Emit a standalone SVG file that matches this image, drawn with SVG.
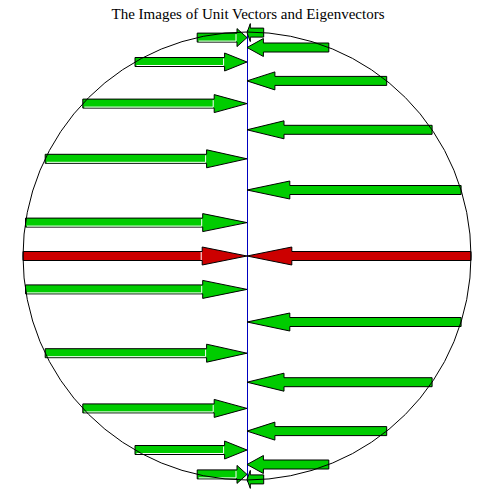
<svg xmlns="http://www.w3.org/2000/svg" width="495" height="495" viewBox="0 0 495 495">
<defs>
<style>
.g{fill:#00cc00;stroke:#000;stroke-width:1;stroke-linejoin:miter}
.r{fill:#cc0000;stroke:#000;stroke-width:1;stroke-linejoin:miter}
.hl{fill:none;stroke:#fff;stroke-width:1}
.axis{stroke:#0000c0;stroke-width:1}
.circ{fill:none;stroke:#000;stroke-width:1}
.title{font-family:"Liberation Serif","Times New Roman",serif;font-size:15px;fill:#000}
</style>
</defs>
<rect width="495" height="495" fill="#fff"/>
<text class="title" x="248" y="19" text-anchor="middle">The Images of Unit Vectors and Eigenvectors</text>
<line id="axis" class="axis" x1="247.5" y1="30" x2="247.5" y2="482"/>
<g id="unit-vectors">
<g id="v1"><path class="g" d="M461.1,185.5 H289.8 V181 L247,190 L289.8,199 V194.5 H461.1 Z"/></g>
<g id="v2"><path class="g" d="M432.1,125.3 H284 V120.8 L247,129.8 L284,138.8 V134.3 H432.1 Z"/></g>
<g id="v3"><path class="g" d="M386.7,76.4 H274.9 V71.9 L247,80.9 L274.9,89.9 V85.4 H386.7 Z"/></g>
<g id="v4"><path class="g" d="M328.8,43 H263.4 V38.5 L247,47.5 L263.4,56.5 V52 H328.8 Z"/></g>
<g id="v6"><path class="g" d="M197.2,33.1 H237 V28.6 L247,37.6 L237,46.6 V42.1 H197.2 Z"/><path class="hl" d="M198.7,41.1 H236 V34.1"/></g>
<g id="v5"><path class="g" d="M263.7,28.1 H250.3 V23.6 L247,32.6 L250.3,41.6 V37.1 H263.7 Z"/></g>
<g id="v7"><path class="g" d="M135,57.5 H224.6 V53 L247,62 L224.6,71 V66.5 H135 Z"/><path class="hl" d="M136.5,65.5 H223.6 V58.5"/></g>
<g id="v8"><path class="g" d="M82.8,99.1 H214.2 V94.6 L247,103.6 L214.2,112.6 V108.1 H82.8 Z"/><path class="hl" d="M84.3,107.1 H213.2 V100.1"/></g>
<g id="v9"><path class="g" d="M45.2,154.3 H206.6 V149.8 L247,158.8 L206.6,167.8 V163.3 H45.2 Z"/><path class="hl" d="M46.7,162.3 H205.6 V155.3"/></g>
<g id="v10"><path class="g" d="M25.5,218.1 H202.7 V213.6 L247,222.6 L202.7,231.6 V227.1 H25.5 Z"/><path class="hl" d="M27,226.1 H201.7 V219.1"/></g>
<g id="v11"><path class="g" d="M25.5,284.9 H202.7 V280.4 L247,289.4 L202.7,298.4 V293.9 H25.5 Z"/><path class="hl" d="M27,292.9 H201.7 V285.9"/></g>
<g id="v12"><path class="g" d="M45.2,348.7 H206.6 V344.2 L247,353.2 L206.6,362.2 V357.7 H45.2 Z"/><path class="hl" d="M46.7,356.7 H205.6 V349.7"/></g>
<g id="v13"><path class="g" d="M82.8,403.9 H214.2 V399.4 L247,408.4 L214.2,417.4 V412.9 H82.8 Z"/><path class="hl" d="M84.3,411.9 H213.2 V404.9"/></g>
<g id="v14"><path class="g" d="M135,445.5 H224.6 V441 L247,450 L224.6,459 V454.5 H135 Z"/><path class="hl" d="M136.5,453.5 H223.6 V446.5"/></g>
<g id="v15"><path class="g" d="M197.2,469.9 H237 V465.4 L247,474.4 L237,483.4 V478.9 H197.2 Z"/><path class="hl" d="M198.7,477.9 H236 V470.9"/></g>
<g id="v17"><path class="g" d="M328.8,460 H263.4 V455.5 L247,464.5 L263.4,473.5 V469 H328.8 Z"/></g>
<g id="v16"><path class="g" d="M263.7,474.9 H250.3 V470.4 L247,479.4 L250.3,488.4 V483.9 H263.7 Z"/></g>
<g id="v18"><path class="g" d="M386.7,426.6 H274.9 V422.1 L247,431.1 L274.9,440.1 V435.6 H386.7 Z"/></g>
<g id="v19"><path class="g" d="M432.1,377.7 H284 V373.2 L247,382.2 L284,391.2 V386.7 H432.1 Z"/></g>
<g id="v20"><path class="g" d="M461.1,317.5 H289.8 V313 L247,322 L289.8,331 V326.5 H461.1 Z"/></g>
</g>
<g id="eigenvectors">
<g id="e1"><path class="r" d="M23,251.5 H202.2 V247 L247,256 L202.2,265 V260.5 H23 Z"/><path class="hl" d="M201.2,252 V260"/></g>
<g id="e2"><path class="r" d="M471,251.5 H291.8 V247 L247,256 L291.8,265 V260.5 H471 Z"/></g>
</g>
<circle id="unit-circle" class="circ" cx="247" cy="256" r="224"/>
</svg>
